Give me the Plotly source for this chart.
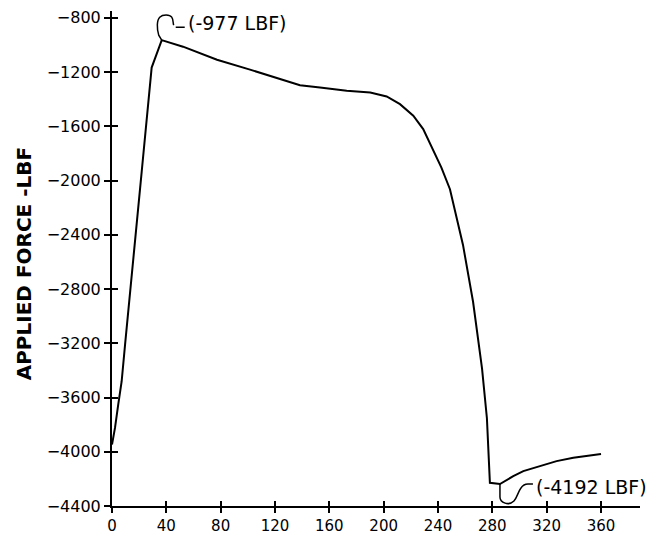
import plotly.graph_objects as go

# Crank angle (deg) and applied force (lbf)
angle = [0, 2.2, 4.6, 7.1, 9.6, 15.7, 21.9, 29.2, 36.6, 52.3, 77.3, 101.6, 125.9,
         138.4, 153.1, 172.8, 190.1, 202.2, 212.0, 221.8, 229.1, 236.5, 242.5,
         248.8, 254.0, 258.4, 265.8, 272.4, 276.0, 277.5, 278.2, 285.6, 295.4,
         302.8, 315.0, 327.3, 339.6, 360.0]
force = [-3947, -3824, -3650, -3482, -3212, -2600, -1930, -1167, -965, -1013, -1109,
         -1182, -1256, -1297, -1314, -1338, -1351, -1380, -1437, -1522, -1621, -1779,
         -1905, -2064, -2284, -2475, -2894, -3386, -3753, -4143, -4229, -4238, -4180,
         -4143, -4106, -4069, -4045, -4016]

x_ticks = [0, 40, 80, 120, 160, 200, 240, 280, 320, 360]
y_ticks = [-4400, -4000, -3600, -3200, -2800, -2400, -2000, -1600, -1200, -800]

max_label = "(-977 LBF)"
min_label = "(-4192 LBF)"
y_title = "APPLIED FORCE -LBF"

i_max = force.index(max(force))
i_min = force.index(min(force))

FONT = "DejaVu Sans"
X_RANGE = [0, 388.7]
Y_RANGE = [-4400, -750]

fig = go.Figure()
fig.add_trace(go.Scatter(x=angle, y=force, mode="lines",
                         line=dict(color="black", width=2),
                         hoverinfo="skip", showlegend=False))
# invisible copy so the overlay axes (inner half of the crossing ticks) are drawn
fig.add_trace(go.Scatter(x=angle, y=force, mode="lines", xaxis="x2", yaxis="y2",
                         opacity=0, hoverinfo="skip", showlegend=False))

axis_common = dict(showgrid=False, zeroline=False, tickcolor="black", tickwidth=1.5)

fig.update_layout(
    width=662, height=543,
    margin=dict(l=112, r=22, t=8, b=36),
    paper_bgcolor="white", plot_bgcolor="white",
    font=dict(family=FONT, color="black"),
    xaxis=dict(range=X_RANGE, tickvals=x_ticks, ticks="outside", ticklen=5,
               showline=True, linecolor="black", linewidth=2,
               tickfont=dict(size=15, family=FONT), **axis_common),
    yaxis=dict(range=Y_RANGE, tickvals=y_ticks, ticks="outside", ticklen=6,
               showline=True, linecolor="black", linewidth=2,
               tickfont=dict(size=16, family=FONT), **axis_common),
    xaxis2=dict(range=X_RANGE, tickvals=x_ticks, ticks="inside", ticklen=5,
                overlaying="x", anchor="y", showticklabels=False, showline=False,
                **axis_common),
    yaxis2=dict(range=Y_RANGE, tickvals=y_ticks, ticks="inside", ticklen=6,
                overlaying="y", anchor="x", side="left", showticklabels=False,
                showline=False, **axis_common),
)

# axis title drawn as rotated text
fig.add_annotation(text=y_title, textangle=-90, xref="paper", yref="paper",
                   x=-0.165, y=0.49, xanchor="center", yanchor="middle",
                   showarrow=False, font=dict(size=20, family=FONT, weight="bold"))

# peak label with hook
fig.add_annotation(text=max_label, x=angle[i_max], y=force[i_max],
                   xanchor="left", yanchor="middle", xshift=24, yshift=17,
                   showarrow=False, font=dict(size=19, family=FONT))
fig.add_shape(type="path", xref="x", yref="y", xsizemode="pixel", ysizemode="pixel",
              xanchor=angle[i_max], yanchor=force[i_max],
              path="M 0,0 L -3,5 C -5,12 -5,20 -2,23 C 1,26 8,26 10,23 "
                   "C 12,20 11,17 12,15 M 14,13 L 23,13",
              line=dict(color="black", width=1.5))

# minimum label with hook
fig.add_annotation(text=min_label, x=angle[i_min], y=force[i_min],
                   xanchor="left", yanchor="middle", xshift=34, yshift=-3,
                   showarrow=False, font=dict(size=19, family=FONT))
fig.add_shape(type="path", xref="x", yref="y", xsizemode="pixel", ysizemode="pixel",
              xanchor=angle[i_min], yanchor=force[i_min],
              path="M 0,0 L 0,-13 C 0,-19 9,-22 14,-17 C 17,-14 18,-8 21,-4 "
                   "C 23,-1 25,0 28,0 L 33,0",
              line=dict(color="black", width=1.5))

fig.write_html("out.html")
